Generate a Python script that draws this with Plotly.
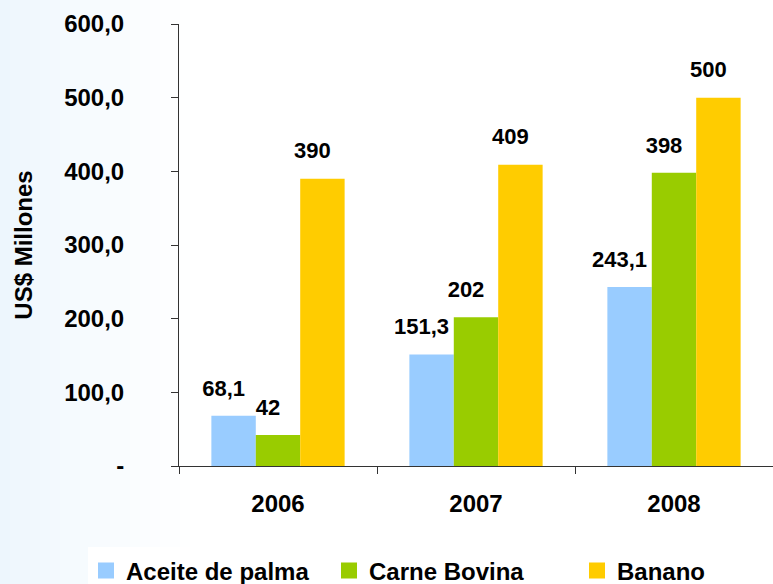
import plotly.graph_objects as go

years = ["2006", "2007", "2008"]
series_names = ["Aceite de palma", "Carne Bovina", "Banano"]
aceite = [68.1, 151.3, 243.1]
carne = [42, 202, 398]
banano = [390, 409, 500]
series_values = [aceite, carne, banano]
colors = ["#99ccff", "#99cc00", "#ffcc00"]
y_tickvals = [0, 100, 200, 300, 400, 500, 600]
y_ticktext = ["-", "100,0", "200,0", "300,0", "400,0", "500,0", "600,0"]

FONT = "Liberation Sans, Arial, sans-serif"

def fmt(v):
    return ("%g" % v).replace(".", ",")

W, H = 773, 584
L, R, T, B = 179, 0, 24, 118
pw = W - L - R
ph = H - T - B

def px_x(px):
    return (px - L) / pw

def px_y(py):
    return (H - B - py) / ph

fig = go.Figure()
for name, vals, col in zip(series_names, series_values, colors):
    fig.add_trace(go.Bar(x=years, y=vals, name=name, marker=dict(color=col, line=dict(width=0)),
                         showlegend=False, offsetgroup=name))
for name, vals, col in zip(series_names, series_values, colors):
    fig.add_trace(go.Scatter(x=years, y=vals, mode="text+markers", text=[fmt(v) for v in vals],
                             textposition="top center", xaxis="x2",
                             marker=dict(size=22, opacity=0, color=col),
                             textfont=dict(size=22, color="black", family=FONT, weight="bold"),
                             showlegend=False, hoverinfo="skip", offsetgroup=name))
legend_ids = ["legend", "legend2", "legend3"]
legend_sq_centers = [106, 349, 597]
for name, col, lid in zip(series_names, colors, legend_ids):
    fig.add_trace(go.Scatter(x=[None], y=[None], mode="markers", name=name, legend=lid,
                             marker=dict(symbol="square", size=16, color=col)))

shapes = []
n = 20
x_end = 200
for i in range(n):
    x0 = i * x_end / n
    x1 = (i + 1) * x_end / n
    t = (i / (n - 1)) ** 0.8
    r = int(round(237 + (255 - 237) * t))
    g = int(round(246 + (255 - 246) * t))
    b = int(round(253 + (255 - 253) * t))
    shapes.append(dict(type="rect", xref="paper", yref="paper",
                       x0=px_x(x0), x1=px_x(x1 + 0.5), y0=px_y(H), y1=px_y(0),
                       fillcolor="rgb(%d,%d,%d)" % (r, g, b), line=dict(width=0), layer="below"))
# white legend band
shapes.append(dict(type="rect", xref="paper", yref="paper",
                   x0=px_x(88), x1=1.0, y0=px_y(H), y1=px_y(547),
                   fillcolor="white", line=dict(width=0), layer="below"))

legend_common = dict(orientation="h", xanchor="left", y=px_y(571), yanchor="middle",
                     bgcolor="rgba(0,0,0,0)", font=dict(size=24, family=FONT, weight="bold"),
                     itemwidth=30, borderwidth=0)

layout_legends = {}
for lid, cx in zip(legend_ids, legend_sq_centers):
    d = dict(legend_common)
    d["x"] = px_x(cx - 20)
    layout_legends[lid] = d

label_shift = 10 / (pw / 3)  # data labels sit ~10px left of bar centres

fig.update_layout(
    width=W, height=H,
    margin=dict(l=L, r=R, t=T, b=B, autoexpand=False),
    paper_bgcolor="white",
    plot_bgcolor="white",
    barmode="group",
    bargap=0.327,
    scattermode="group",
    scattergap=0.327,
    font=dict(family=FONT, size=24, color="black", weight="bold"),
    shapes=shapes,
    showlegend=True,
    xaxis=dict(type="category", range=[-0.5, 2.5], showline=True, linecolor="#333333", linewidth=1,
               ticks="outside", tickson="boundaries", ticklen=7, tickcolor="#333333",
               tickfont=dict(size=24, family=FONT, weight="bold"), ticklabelstandoff=16,
               showgrid=False, zeroline=False, automargin=False),
    xaxis2=dict(type="category", overlaying="x", range=[-0.5 + label_shift, 2.5 + label_shift],
                visible=False, showgrid=False, zeroline=False, automargin=False),
    yaxis=dict(range=[0, 600], tickvals=y_tickvals, ticktext=y_ticktext,
               showline=True, linecolor="#333333", linewidth=1,
               ticks="outside", ticklen=7, tickcolor="#333333",
               tickfont=dict(size=24, family=FONT, weight="bold"), ticklabelstandoff=42,
               showgrid=False, zeroline=False, automargin=False,
               title=dict(text="US$ Millones", font=dict(size=24, family=FONT, weight="bold"), standoff=24)),
    **layout_legends,
)

fig.write_html("out.html", config={"displayModeBar": False},
               post_script="document.body.style.margin='0px';document.body.style.overflow='hidden';")
